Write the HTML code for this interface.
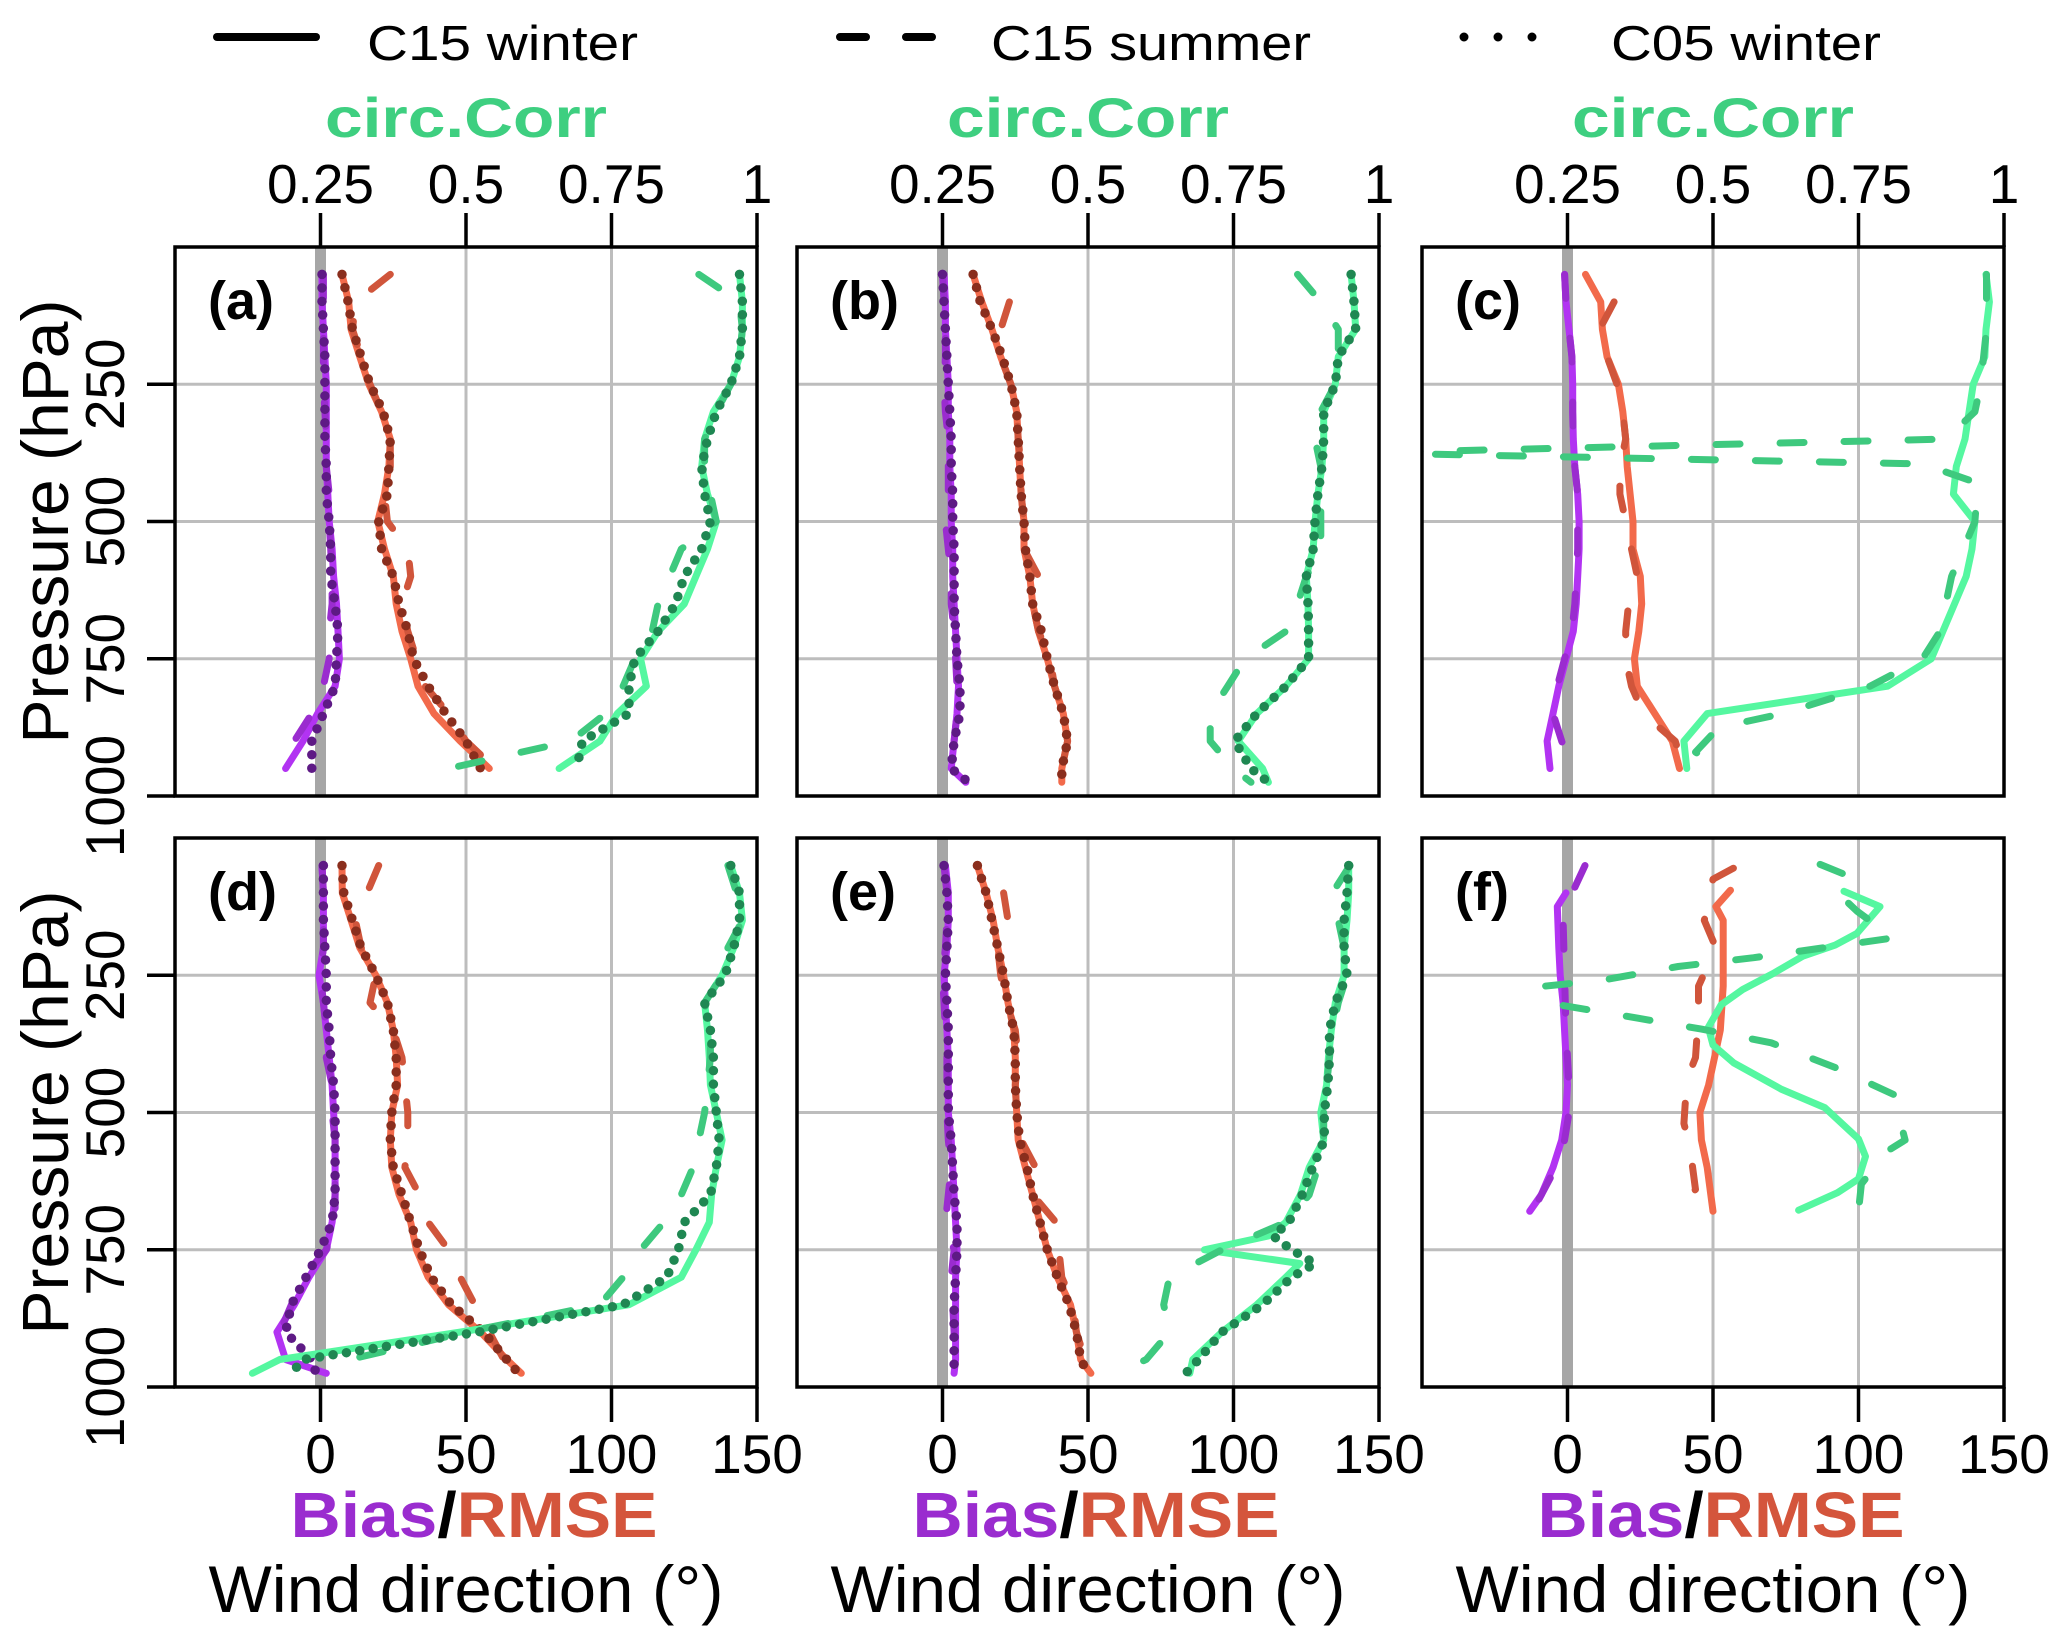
<!DOCTYPE html>
<html><head><meta charset="utf-8"><style>
html,body{margin:0;padding:0;background:#fff;}
svg{display:block;font-family:"Liberation Sans",Arial,sans-serif;}
</style></head><body>
<svg id="chart" width="2067" height="1643" viewBox="0 0 2067 1643" xmlns="http://www.w3.org/2000/svg">
<rect width="2067" height="1643" fill="#fff"/>
<g>
  <line x1="217" y1="37" x2="316" y2="37" stroke="#000" stroke-width="8" stroke-linecap="round"/>
  <text x="367" y="60" font-size="49" textLength="271" lengthAdjust="spacingAndGlyphs">C15 winter</text>
  <line x1="840" y1="37" x2="936" y2="37" stroke="#000" stroke-width="8" stroke-linecap="round" stroke-dasharray="26 40"/>
  <text x="991" y="60" font-size="49" textLength="320" lengthAdjust="spacingAndGlyphs">C15 summer</text>
  <line x1="1464" y1="37" x2="1536" y2="37" stroke="#000" stroke-width="9" stroke-linecap="round" stroke-dasharray="0 34"/>
  <text x="1611" y="60" font-size="49" textLength="270" lengthAdjust="spacingAndGlyphs">C05 winter</text>
</g>
<g id="panels"></g>
</svg>
<script>
// ---------- data (pressure levels in hPa, values in degrees / correlation) ----------
const LV = [50,100,150,200,250,300,350,400,450,500,550,600,650,700,750,800,850,900,950,975];

const aBiasSolid = [0.5,0.5,1,1.5,2,2,2,2,2.5,3,4,4.5,5.5,6,6.5,5,-1,-6,-12,null];
const aBiasDash  = [1,1,1,1,1,1.5,2,2,3,3,3.5,4,4,3,3,1,-3,-9,-12,null];
const aBiasDot   = [0.5,0.5,1,1.5,1.5,1.5,1.5,2,2,3,3.5,3.5,5,6,5.5,5,1,-3,-3,null];
const aRmseSolid = [7.4,9.7,10.5,13.5,16.6,21,24,23.5,22,19.7,22,25,26,28,31,33.5,39,48,58,null];
const aRmseDash  = [24,12,11,14,17,21,24,24,22,23,30,31,28,30,33,36,44,50,60,null];
const aRmseDot   = [7.4,9.5,11,14,17,21.5,24,23.5,23,20,21,25,27,30,32,37,43,50,55,null];
const aCorrSolid = [0.97,0.975,0.975,0.97,0.955,0.925,0.91,0.905,0.915,0.93,0.915,0.895,0.875,0.83,0.80,0.81,0.76,0.73,0.66,null];
const aCorrDash  = [0.90,0.97,0.975,0.97,0.955,0.93,0.91,0.91,0.92,0.93,0.87,0.85,0.83,0.82,0.79,0.77,0.74,0.68,0.47,null];
const aCorrDot   = [0.97,0.975,0.975,0.97,0.955,0.93,0.915,0.905,0.91,0.92,0.905,0.875,0.86,0.83,0.79,0.78,0.78,0.70,0.69,null];

const bBiasSolid = [0.5,1,1,1.5,2,2,2.5,2.5,3,3,3.5,3.5,4,4.5,5,5.5,5,4,3,8];
const bBiasDash  = [0,0.5,1,1,0.5,1,2,2,2,1,2,3,3,4,4.5,5,5,4,3,null];
const bBiasDot   = [0,0.5,1,1.5,2,2.5,3,3,3.5,3.5,4,4,4,4.5,5,6,6,4,3,9];
const bRmseSolid = [10.5,13.5,17,20,23.5,25.5,26,26.5,27,28,28,30,31,33,36,38.5,41.5,43,41,41];
const bRmseDash  = [null,23,20,20,23.5,25.5,26,27,27,28,28,33,31,33,37,38.5,41.5,43,41,41];
const bRmseDot   = [10.5,13,17,20.5,23.5,25.5,26,26.5,27,28,28.5,30,31,34,36,38.5,41.5,43,41,41];
const bCorrSolid = [0.952,0.957,0.96,0.93,0.925,0.905,0.905,0.902,0.895,0.89,0.887,0.875,0.878,0.879,0.879,0.84,0.79,0.758,0.80,0.81];
const bCorrDash  = [0.86,0.9,0.93,0.93,0.925,0.9,0.89,0.9,0.9,0.9,0.9,0.875,0.86,0.84,0.77,0.74,0.71,0.71,0.75,0.78];
const bCorrDot   = [0.952,0.957,0.96,0.93,0.925,0.905,0.905,0.902,0.895,0.89,0.887,0.875,0.878,0.879,0.879,0.84,0.79,0.752,0.78,0.81];

const cBiasSolid = [-1,-0.5,0.5,1.5,1.8,1.8,2,2.5,3.5,4,4,3.5,3,2,-0.5,-3,-5,-7,-6,null];
const cBiasDash  = [-1,-0.5,0.5,1.5,1.8,1.8,2,2.5,3.5,3.5,3.5,3,2.5,1.5,-1,-3.5,-5,-2,1.5,null];
const cRmseSolid = [6.2,11.4,12,13.6,17.5,19,20,20.5,21.5,22.5,22.5,25,25.5,24.5,23,24,30,36,38.5,null];
const cRmseDash  = [null,16,11,13.6,17,19,20,18,18,20,22,24,21,20,20,22,26,37,40,null];
const cCorrSolid = [0.969,0.975,0.969,0.967,0.947,0.94,0.933,0.918,0.913,0.95,0.945,0.935,0.915,0.895,0.875,0.80,0.49,0.45,0.455,null];
const cCorrDashP = [50,100,150,200,250,300,350,375,395,430,500,550,600,650,700,750,800,850,875,920,945];
const cCorrDash  = [0.97,0.97,0.97,0.965,0.96,0.95,0.9,-0.1,0.86,0.955,0.95,0.93,0.91,0.9,0.89,0.86,0.77,0.62,0.51,0.47,0.51];

const dBiasSolid = [0.5,1,1,1,-0.5,1,2,3,4,4.5,5,5,5,4,2,-4,-9,-15,-12,2];
const dBiasDash  = [0.5,1,1,1,0,1,2,2,4,4,5,5,5,5,2,-6,-10,-14,-11,null];
const dBiasDot   = [1,1,1,1.5,2,2,3,3.5,4.5,5,5,5,5,4,0,-5,-10,-12,-3,-1.5];
const dRmseSolid = [7.4,7.5,10.5,13.5,19,23,25,26,26.5,24.5,24,24.5,27,31,33,37,44,55,64,69];
const dRmseDash  = [20,16,12,14,19,17,25,28,29,30,30,29,34,37,44,48,53,58,63,68];
const dRmseDot   = [7.4,8,11,14,19,23,25,26,26,24.5,24,25,28,31,34,38,45,56,64,68];
const dCorrSolid = [0.955,0.97,0.975,0.96,0.94,0.91,0.915,0.918,0.92,0.93,0.94,0.93,0.922,0.918,0.895,0.87,0.78,0.49,0.18,0.133];
const dCorrDash  = [0.95,0.965,0.975,0.95,0.94,0.91,0.92,0.92,0.915,0.91,0.9,0.89,0.87,0.84,0.8,0.77,0.73,0.5,0.3,0.27];
const dCorrDot   = [0.955,0.97,0.97,0.96,0.945,0.91,0.92,0.925,0.925,0.93,0.935,0.93,0.92,0.875,0.865,0.845,0.77,0.52,0.22,0.2];

const eBiasSolid = [1,2,2,1.5,0.5,1,1.5,2,2,2,3,3.5,4,4.5,5,4.5,4.5,4.5,4.5,4];
const eBiasDash  = [0.5,1.5,1.5,1,0,0.5,1,1.5,1.5,1.5,2,3,2,1,4,3,3.5,4,4,null];
const eBiasDot   = [0.5,1.5,2,1.5,1,1.5,2,2,2,2,3,3.5,4,5,5,4.5,4,4,4,4];
const eRmseSolid = [12,15,17.4,19,21,22.5,24.5,25,25,25.5,26,28.5,31,33.5,36,39.5,44,46,47.5,51];
const eRmseDash  = [null,21,22.5,19,20,22,25,26,25,25.5,27,32,31,39,40,41,45,46,49,53];
const eRmseDot   = [12,15,17,19,21,22.5,24.5,25,25,25.5,26.5,29,31,33.5,36,39.5,43.5,46,47.5,50];
const eCorrP     = [50,100,150,200,250,300,350,400,450,500,550,600,650,700,725,750,775,800,850,900,950,975];
const eCorrSolid = [0.948,0.948,0.945,0.94,0.94,0.925,0.918,0.913,0.91,0.9,0.905,0.88,0.865,0.84,0.81,0.70,0.864,0.84,0.79,0.73,0.68,0.675];
const eCorrDot   = [0.948,0.945,0.94,0.94,0.945,0.925,0.915,0.915,0.912,0.906,0.906,0.886,0.868,0.845,0.818,0.85,0.89,0.85,0.8,0.73,0.69,0.668];
const eCorrDash  = [0.95,0.92,0.93,0.94,0.945,0.93,0.92,0.915,0.91,0.905,0.905,0.895,0.88,0.84,0.73,0.64,0.63,0.64,0.6,0.55];

const fBiasSolidP = [100,125,200,250,300,400,450,500,550,600,650,680];
const fBiasSolid  = [-0.5,-3.5,-3,-2.5,-1.5,-0.5,0,-0.5,-2,-5,-9,-13];
const fBiasDashP  = [50,90,150,250,350,450,500,550,600,650,680];
const fBiasDash   = [6,2.5,-1.5,-1,-0.5,0.5,0.5,-1,-4,-9,-12];
const fRmseSolidP = [95,125,150,270,350,400,450,500,550,600,680];
const fRmseSolid  = [56,51,53.5,53.5,52.5,50.5,48.5,45.5,46,48,50];
const fRmseDashP  = [55,75,150,200,270,320,400,440,520,560,640,680];
const fRmseDash   = [57,50,47,51,45,45,44,41,40,42,44,38];
const fCorrSolidP = [97,125,174,195,215,247,276,304,345,377,410,458,491,548,580,621,646,678];
const fCorrSolid  = [0.725,0.787,0.747,0.71,0.655,0.603,0.551,0.514,0.492,0.5,0.536,0.618,0.692,0.75,0.762,0.75,0.714,0.647];
const fCorrDashP  = [48,68,100,133,182,206,218,234,259,271,302,328,348,373,418,467,550,570,630,680];
const fCorrDash   = [0.684,0.73,0.714,0.747,0.81,0.65,0.57,0.44,0.31,0.2,0.225,0.37,0.48,0.6,0.71,0.81,0.83,0.8,0.755,0.75];

const BOTTOM_TICKS = [0,50,100,150];
const TOP_TICKS = [0.25,0.5,0.75,1];
const TOP_TICK_LABELS = ["0.25","0.5","0.75","1"];
const P_TICKS = [250,500,750,1000];
const PANEL_LABELS = ["(a)","(b)","(c)","(d)","(e)","(f)"];

// ---------- layout ----------
const NS = "http://www.w3.org/2000/svg";
const W = 582, H = 549;
const COLS = [175, 797, 1422], ROWS = [247, 838];
const XMIN = -50, XMAX = 150, PMAX = 1000;
const COL = {
  biasSolid:"#b233f2", biasDash:"#9a2ccf", biasDot:"#5e1a85",
  rmseSolid:"#f26a4b", rmseDash:"#d0553b", rmseDot:"#8a2e1d",
  corrSolid:"#55f7a0", corrDash:"#3ec97e", corrDot:"#1f8752"
};
function el(tag, attrs, parent){ const e=document.createElementNS(NS,tag); for(const k in attrs) e.setAttribute(k,attrs[k]); if(parent) parent.appendChild(e); return e; }

const panels = [
  {id:"a",col:0,row:0,series:[
    ["bias",LV,aBiasSolid,"solid"],["bias",LV,aBiasDash,"dash"],["bias",LV,aBiasDot,"dot"],
    ["rmse",LV,aRmseSolid,"solid"],["rmse",LV,aRmseDash,"dash"],["rmse",LV,aRmseDot,"dot"],
    ["corr",LV,aCorrSolid,"solid"],["corr",LV,aCorrDash,"dash"],["corr",LV,aCorrDot,"dot"]]},
  {id:"b",col:1,row:0,series:[
    ["bias",LV,bBiasSolid,"solid"],["bias",LV,bBiasDash,"dash"],["bias",LV,bBiasDot,"dot"],
    ["rmse",LV,bRmseSolid,"solid"],["rmse",LV,bRmseDash,"dash"],["rmse",LV,bRmseDot,"dot"],
    ["corr",LV,bCorrSolid,"solid"],["corr",LV,bCorrDash,"dash"],["corr",LV,bCorrDot,"dot"]]},
  {id:"c",col:2,row:0,series:[
    ["bias",LV,cBiasSolid,"solid"],["bias",LV,cBiasDash,"dash"],
    ["rmse",LV,cRmseSolid,"solid"],["rmse",LV,cRmseDash,"dash"],
    ["corr",LV,cCorrSolid,"solid"],["corr",cCorrDashP,cCorrDash,"dash"]]},
  {id:"d",col:0,row:1,series:[
    ["bias",LV,dBiasSolid,"solid"],["bias",LV,dBiasDash,"dash"],["bias",LV,dBiasDot,"dot"],
    ["rmse",LV,dRmseSolid,"solid"],["rmse",LV,dRmseDash,"dash"],["rmse",LV,dRmseDot,"dot"],
    ["corr",LV,dCorrSolid,"solid"],["corr",LV,dCorrDash,"dash"],["corr",LV,dCorrDot,"dot"]]},
  {id:"e",col:1,row:1,series:[
    ["bias",LV,eBiasSolid,"solid"],["bias",LV,eBiasDash,"dash"],["bias",LV,eBiasDot,"dot"],
    ["rmse",LV,eRmseSolid,"solid"],["rmse",LV,eRmseDash,"dash"],["rmse",LV,eRmseDot,"dot"],
    ["corr",eCorrP,eCorrSolid,"solid"],["corr",LV,eCorrDash,"dash"],["corr",eCorrP,eCorrDot,"dot"]]},
  {id:"f",col:2,row:1,series:[
    ["bias",fBiasSolidP,fBiasSolid,"solid"],["bias",fBiasDashP,fBiasDash,"dash"],
    ["rmse",fRmseSolidP,fRmseSolid,"solid"],["rmse",fRmseDashP,fRmseDash,"dash"],
    ["corr",fCorrSolidP,fCorrSolid,"solid"],["corr",fCorrDashP,fCorrDash,"dash"]]}
];

const root = document.getElementById("panels");
const defs = el("defs",{},root);

panels.forEach((pn, idx) => {
  const L = COLS[pn.col], T = ROWS[pn.row];
  const xv = v => L + (v - XMIN) / (XMAX - XMIN) * W;
  const xc = c => xv(c * (XMAX - XMIN) + XMIN);
  const yp = p => T + p / PMAX * H;

  const g = el("g",{},root);
  
  

  const cp = el("clipPath",{id:"clip"+pn.id},defs);
  el("rect",{x:L,y:T,width:W,height:H},cp);

  // grid
  [50,100].forEach(v => {
    const ln = el("line",{x1:xv(v),x2:xv(v),y1:T,y2:T+H,stroke:"#bdbdbd","stroke-width":3},g);
    
    
  });
  [250,500,750].forEach(p => {
    const ln = el("line",{x1:L,x2:L+W,y1:yp(p),y2:yp(p),stroke:"#bdbdbd","stroke-width":3},g);
    
    
  });
  const zl = el("line",{x1:xv(0),x2:xv(0),y1:T,y2:T+H,stroke:"#a6a6a6","stroke-width":11},g);
  
  

  // series
  const sg = el("g",{"clip-path":"url(#clip"+pn.id+")"},g);
  
  
  pn.series.forEach(s => {
    const [kind, ps, vals, style] = s;
    const fx = kind === "corr" ? xc : xv;
    const segs = []; let cur = [];
    for (let i = 0; i < ps.length; i++) {
      if (vals[i] === null || vals[i] === undefined) { if (cur.length) segs.push(cur); cur = []; continue; }
      cur.push(fx(vals[i]).toFixed(1) + "," + yp(ps[i]).toFixed(1));
    }
    if (cur.length) segs.push(cur);
    const key = kind + (style === "solid" ? "Solid" : style === "dash" ? "Dash" : "Dot");
    segs.forEach(seg => {
      const attrs = {points: seg.join(" "), fill:"none", stroke: COL[key], "stroke-linejoin":"round"};
      if (style === "solid") { attrs["stroke-width"] = 7; attrs["stroke-linecap"] = "round"; }
      else if (style === "dash") { attrs["stroke-width"] = 7; attrs["stroke-linecap"] = "round"; attrs["stroke-dasharray"] = "24 40"; }
      else { attrs["stroke-width"] = 9.5; attrs["stroke-linecap"] = "round"; attrs["stroke-dasharray"] = "0 13.5"; }
      const pl = el("polyline", attrs, sg);
      
      
    });
  });

  // frame
  const fr = el("rect",{x:L,y:T,width:W,height:H,fill:"none",stroke:"#000","stroke-width":3.5},g);
  
  

  // panel label
  const pl = el("text",{x:L+33,y:T+72,"font-size":54,"font-weight":"bold"},g);
  pl.textContent = PANEL_LABELS[idx];
  
  

  // left axis
  if (pn.col === 0) {
    P_TICKS.forEach(p => {
      const tk = el("line",{x1:L-28,x2:L,y1:yp(p),y2:yp(p),stroke:"#000","stroke-width":3.5},g);
      
      
      const tl = el("text",{x:0,y:0,"font-size":55,"text-anchor":"middle",transform:"translate(124,"+yp(p)+") rotate(-90)"},g);
      tl.textContent = String(p);
      
      
    });
    const yt = el("text",{x:0,y:0,"font-size":66,"text-anchor":"middle",textLength:444,lengthAdjust:"spacingAndGlyphs",transform:"translate(68,"+(T+H/2)+") rotate(-90)"},g);
    yt.textContent = "Pressure (hPa)";
    
    
  }

  // top axis (corr)
  if (pn.row === 0) {
    TOP_TICKS.forEach((c, i) => {
      const tk = el("line",{x1:xc(c),x2:xc(c),y1:T-34,y2:T,stroke:"#000","stroke-width":3.5},g);
      
      
      const tl = el("text",{x:xc(c),y:T-44,"font-size":55,"text-anchor":"middle"},g);
      tl.textContent = TOP_TICK_LABELS[i];
      
      
    });
    const ct = el("text",{x:L+W/2,y:137,"font-size":56,"font-weight":"bold",fill:"#3ecf80","text-anchor":"middle",textLength:282,lengthAdjust:"spacingAndGlyphs"},g);
    ct.textContent = "circ.Corr";
    
    
  }

  // bottom axis
  if (pn.row === 1) {
    BOTTOM_TICKS.forEach(v => {
      const tk = el("line",{x1:xv(v),x2:xv(v),y1:T+H,y2:T+H+35,stroke:"#000","stroke-width":3.5},g);
      
      
      const tl = el("text",{x:xv(v),y:1473,"font-size":55,"text-anchor":"middle"},g);
      tl.textContent = String(v);
      
      
    });
    const br = el("text",{x:L+W/2+8,y:1537,"font-size":64,"font-weight":"bold","text-anchor":"middle",textLength:367,lengthAdjust:"spacingAndGlyphs"},g);
    
    
    const t1 = el("tspan",{fill:"#9a2ccf"},br); t1.textContent = "Bias";
    const t2 = el("tspan",{fill:"#000"},br); t2.textContent = "/";
    const t3 = el("tspan",{fill:"#d4553c"},br); t3.textContent = "RMSE";
    const wd = el("text",{x:L+W/2,y:1612,"font-size":66,"text-anchor":"middle",textLength:515,lengthAdjust:"spacingAndGlyphs"},g);
    wd.textContent = "Wind direction (°)";
    
    
  }
});
</script>
</body></html>
